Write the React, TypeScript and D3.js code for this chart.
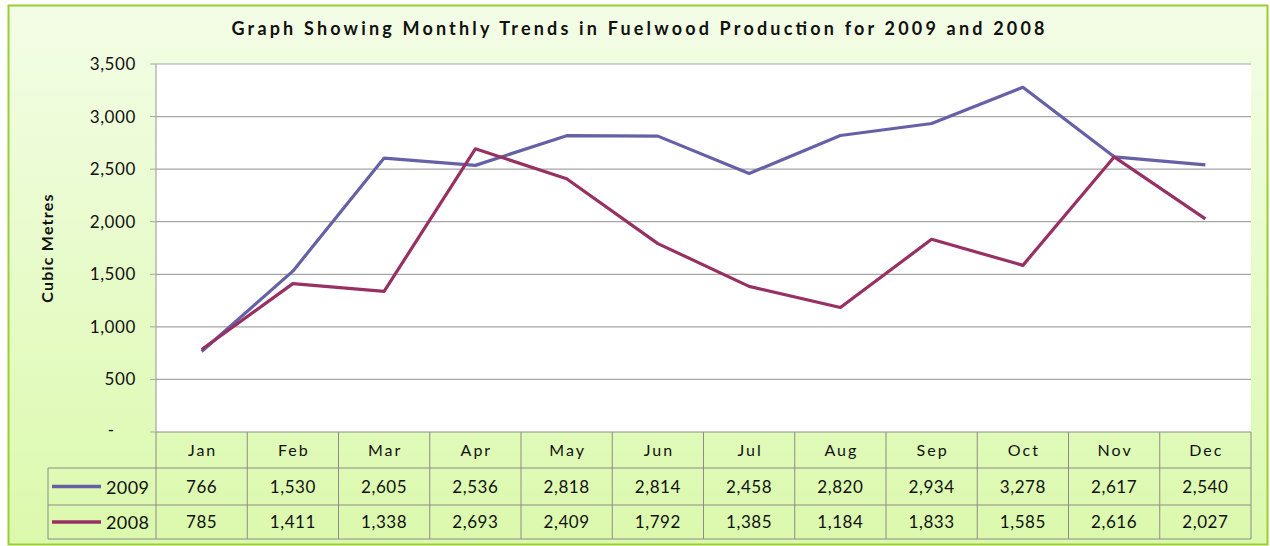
import React from "react";
import * as d3 from "d3";

const months = ["Jan", "Feb", "Mar", "Apr", "May", "Jun", "Jul", "Aug", "Sep", "Oct", "Nov", "Dec"];
const values2009 = [766, 1530, 2605, 2536, 2818, 2814, 2458, 2820, 2934, 3278, 2617, 2540];
const values2008 = [785, 1411, 1338, 2693, 2409, 1792, 1385, 1184, 1833, 1585, 2616, 2027];
const yTicks = [0, 500, 1000, 1500, 2000, 2500, 3000, 3500];
const seriesNames = ["2009", "2008"];
const seriesColors = ["#6661A6", "#983163"];
const title = "Graph Showing Monthly Trends in Fuelwood Production for 2009 and 2008";
const yLabel = "Cubic Metres";

export default function App() {
  const W = 1270, H = 546;
  const left = 156, right = 1251, top = 64, bottom = 432;
  const x = d3.scaleBand<string>().domain(months).range([left, right]);
  const y = d3.scaleLinear().domain([0, 3500]).range([bottom, top]);
  const fmt = d3.format(",");
  const line = d3.line<number>().x((_, i) => x(months[i])! + x.bandwidth() / 2).y((d) => y(d));
  const series = [values2009, values2008];
  const rowY = [432, 468, 505, 539];
  const font = "Lato, 'Open Sans', sans-serif";
  const gridColor = "#A6A6A6";
  const tableLine = "#8C8C8C";

  return (
    <svg width={W} height={H} style={{ position: "absolute", left: 0, top: 0 }} fontFamily={font}>
      <defs>
        <linearGradient id="bg" x1="0" y1="0" x2="0" y2="1">
          <stop offset="0" stopColor="#F3FDE6" />
          <stop offset="1" stopColor="#DBF9AC" />
        </linearGradient>
      </defs>
      <rect x={8.5} y={5.5} width={1259} height={539} fill="url(#bg)" stroke="#9ACD32" strokeWidth={2} />
      <text x={638} y={35} textAnchor="middle" fontSize={18} fontWeight="bold" fill="#111"
        textLength={813} lengthAdjust="spacing">{title}</text>
      <rect x={left} y={top} width={right - left} height={bottom - top} fill="#fff" />
      {yTicks.map((t) => (
        <g key={t}>
          {t > 0 && <line x1={left} x2={right} y1={y(t)} y2={y(t)} stroke={gridColor} strokeWidth={1.2} />}
          <line x1={left - 6} x2={left} y1={y(t)} y2={y(t)} stroke={gridColor} />
          {t === 0 ? (
            <text x={111} y={y(t) + 4} textAnchor="middle" fontSize={17} fill="#111">-</text>
          ) : (
            <text x={136} y={y(t) + 6} textAnchor="end" fontSize={17} fill="#111" letterSpacing={0.6}>{fmt(t)}</text>
          )}
        </g>
      ))}
      <line x1={left} x2={left} y1={top} y2={bottom} stroke={gridColor} strokeWidth={1.2} />
      <text transform={`translate(53,${(top + bottom) / 2}) rotate(-90)`} textAnchor="middle" fontSize={16}
        fontWeight="bold" fill="#111" letterSpacing={1.2}>{yLabel}</text>
      {series.map((s, i) => (
        <path key={i} d={line(s)!} fill="none" stroke={seriesColors[i]} strokeWidth={3.2} strokeLinejoin="round" />
      ))}
      {/* data table */}
      <line x1={left} x2={right} y1={rowY[0]} y2={rowY[0]} stroke={tableLine} />
      <line x1={48} x2={right} y1={rowY[1]} y2={rowY[1]} stroke={tableLine} />
      <line x1={48} x2={right} y1={rowY[2]} y2={rowY[2]} stroke={tableLine} />
      <line x1={48} x2={right} y1={rowY[3]} y2={rowY[3]} stroke={tableLine} />
      <line x1={48} x2={48} y1={rowY[1]} y2={rowY[3]} stroke={tableLine} />
      {months.map((m) => (
        <line key={m} x1={x(m)!} x2={x(m)!} y1={rowY[0]} y2={rowY[3]} stroke={tableLine} />
      ))}
      <line x1={right} x2={right} y1={rowY[0]} y2={rowY[3]} stroke={tableLine} />
      {months.map((m) => (
        <text key={m} x={x(m)! + x.bandwidth() / 2 + 1} y={(rowY[0] + rowY[1]) / 2 + 6} textAnchor="middle"
          fontSize={16} fill="#111" letterSpacing={2}>{m}</text>
      ))}
      {series.map((s, i) => (
        <g key={i}>
          <line x1={52} x2={101} y1={(rowY[i + 1] + rowY[i + 2]) / 2} y2={(rowY[i + 1] + rowY[i + 2]) / 2}
            stroke={seriesColors[i]} strokeWidth={3.5} />
          <text x={106} y={(rowY[i + 1] + rowY[i + 2]) / 2 + 7} fontSize={18} fill="#111" letterSpacing={0.4}>{seriesNames[i]}</text>
          {s.map((v, j) => (
            <text key={j} x={x(months[j])! + x.bandwidth() / 2} y={(rowY[i + 1] + rowY[i + 2]) / 2 + 6}
              textAnchor="middle" fontSize={17} fill="#111" letterSpacing={0.6}>{fmt(v)}</text>
          ))}
        </g>
      ))}
    </svg>
  );
}
